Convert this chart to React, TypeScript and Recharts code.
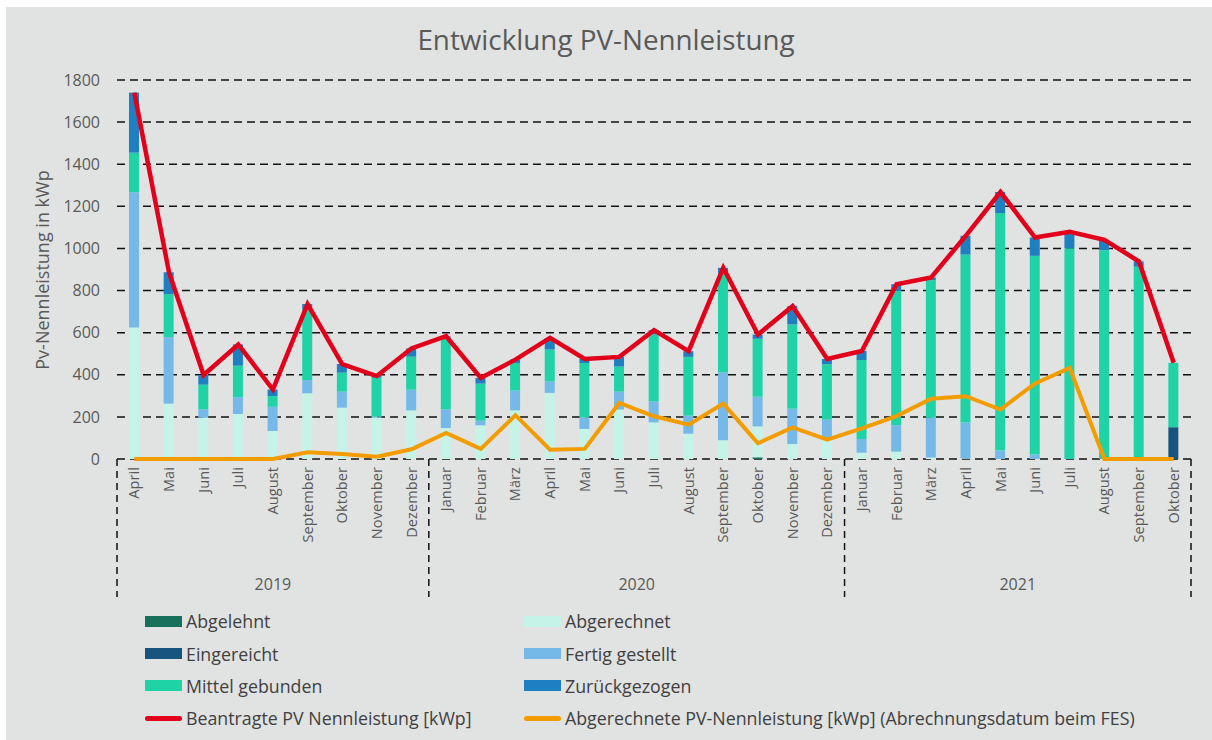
import { Bar, CartesianGrid, ComposedChart, Line, XAxis, YAxis } from "recharts"

const months = [
  "April", "Mai", "Juni", "Juli", "August", "September", "Oktober", "November", "Dezember",
  "Januar", "Februar", "März", "April", "Mai", "Juni", "Juli", "August", "September", "Oktober", "November", "Dezember",
  "Januar", "Februar", "März", "April", "Mai", "Juni", "Juli", "August", "September", "Oktober",
]
const years = [
  "2019", "2019", "2019", "2019", "2019", "2019", "2019", "2019", "2019",
  "2020", "2020", "2020", "2020", "2020", "2020", "2020", "2020", "2020", "2020", "2020", "2020",
  "2021", "2021", "2021", "2021", "2021", "2021", "2021", "2021", "2021", "2021",
]

// stacked status values in kWp
const abgelehnt = [0, 0, 0, 0, 0, 0, 0, 0, 0, 0, 0, 0, 0, 0, 0, 0, 0, 0, 8, 0, 0, 0, 0, 0, 0, 0, 0, 0, 0, 0, 0]
const abgerechnet = [625, 263, 196, 214, 133, 312, 244, 196, 231, 147, 160, 231, 314, 143, 235, 174, 120, 89, 147, 71, 92, 30, 35, 7, 3, 0, 0, 0, 0, 0, 0]
const eingereicht = [0, 0, 0, 0, 0, 0, 0, 0, 0, 0, 0, 0, 0, 0, 0, 0, 0, 0, 0, 0, 0, 0, 0, 0, 0, 0, 0, 0, 0, 0, 151]
const fertigGestellt = [642, 316, 40, 80, 115, 63, 76, 5, 98, 89, 22, 94, 54, 55, 85, 99, 86, 323, 141, 168, 95, 65, 126, 189, 170, 40, 21, 0, 0, 0, 0]
const mittelGebunden = [188, 204, 117, 149, 51, 335, 90, 185, 157, 344, 176, 131, 152, 258, 119, 318, 279, 472, 275, 400, 263, 375, 637, 653, 798, 1128, 944, 1001, 992, 913, 306]
const zurueckgezogen = [285, 104, 46, 101, 31, 26, 41, 8, 39, 3, 27, 16, 55, 19, 46, 21, 27, 24, 20, 87, 25, 43, 32, 13, 89, 100, 87, 78, 49, 25, 0]

// lines
const beantragt = [1740, 887, 399, 544, 330, 736, 451, 394, 525, 583, 385, 472, 575, 475, 485, 612, 512, 908, 591, 726, 475, 513, 830, 862, 1060, 1268, 1052, 1079, 1041, 938, 457]
const abgerechnetLeistung = [0, 0, 0, 0, 0, 32, 24, 11, 46, 124, 48, 208, 44, 48, 266, 203, 163, 263, 75, 150, 92, 145, 204, 286, 298, 235, 359, 432, 0, 0, 0]

const yTicks = [0, 200, 400, 600, 800, 1000, 1200, 1400, 1600, 1800]

const barSeries = [
  { key: "abgelehnt", name: "Abgelehnt", color: "#17705a" },
  { key: "abgerechnet", name: "Abgerechnet", color: "#c6f3e8" },
  { key: "eingereicht", name: "Eingereicht", color: "#17557e" },
  { key: "fertigGestellt", name: "Fertig gestellt", color: "#74b9e7" },
  { key: "mittelGebunden", name: "Mittel gebunden", color: "#20d3a7" },
  { key: "zurueckgezogen", name: "Zurückgezogen", color: "#1f80c1" },
]
const lineSeries = [
  { key: "beantragt", name: "Beantragte PV Nennleistung [kWp]", color: "#e3001b", width: 4.5 },
  { key: "abgerechnetLeistung", name: "Abgerechnete PV-Nennleistung [kWp] (Abrechnungsdatum beim FES)", color: "#f39c00", width: 4 },
]

const data = months.map((m, i) => ({
  month: m,
  year: years[i],
  abgelehnt: abgelehnt[i],
  abgerechnet: abgerechnet[i],
  eingereicht: eingereicht[i],
  fertigGestellt: fertigGestellt[i],
  mittelGebunden: mittelGebunden[i],
  zurueckgezogen: zurueckgezogen[i],
  beantragt: beantragt[i],
  abgerechnetLeistung: abgerechnetLeistung[i],
}))

const W = 1212
const CHART_H = 605
const Y_AXIS_W = 117
const RIGHT = 21
const step = (W - Y_AXIS_W - RIGHT) / months.length
const textColor = "#595959"
const font = "'Open Sans', 'Noto Sans', sans-serif"

const MonthTick = (props: any) => {
  const { x, y, payload } = props
  const i = payload.index
  const yr = years[i]
  const first = i === 0 || years[i - 1] !== yr
  const last = i === months.length - 1
  let end = i
  while (end + 1 < years.length && years[end + 1] === yr) end++
  const sep = { stroke: "#111", strokeWidth: 1.5, strokeDasharray: "7 5" }
  return (
    <g>
      <g transform={`translate(${x},${y + 8}) rotate(-90)`}>
        <text textAnchor="end" dy="0.35em" fontSize={14.5} letterSpacing={0.1} fill={textColor} fontFamily={font}>
          {payload.value}
        </text>
      </g>
      {first && <line x1={x - step / 2} x2={x - step / 2} y1={y} y2={y + 138} {...sep} />}
      {last && <line x1={x + step / 2} x2={x + step / 2} y1={y} y2={y + 138} {...sep} />}
      {first && (
        <text x={x + ((end - i) * step) / 2} y={y + 125} textAnchor="middle" dominantBaseline="central" fontSize={16} fill={textColor} fontFamily={font}>
          {yr}
        </text>
      )}
    </g>
  )
}

const legendItems = [
  barSeries[0], barSeries[1], barSeries[2], barSeries[3], barSeries[4], barSeries[5],
  { ...lineSeries[0], line: true }, { ...lineSeries[1], line: true },
] as any[]

export default function App() {
  return (
    <div style={{ position: "fixed", left: 0, top: 0, width: W, height: 740, background: "#fff", fontFamily: font }}>
      <div style={{ position: "absolute", left: 6, top: 7, right: 0, bottom: 0, background: "#e1e3e2" }} />
      <div style={{ position: "absolute", left: 0, top: 20, width: W, textAlign: "center", fontSize: 27.8, color: textColor }}>
        Entwicklung PV-Nennleistung
      </div>
      <div style={{ position: "absolute", left: 0, top: 0 }}>
        <ComposedChart width={W} height={CHART_H} data={data} margin={{ top: 80, right: RIGHT, bottom: 0, left: 0 }}>
          <CartesianGrid vertical={false} stroke="#111" strokeWidth={1.5} strokeDasharray="8 5" />
          <XAxis dataKey="month" interval={0} axisLine={false} tickLine={false} tickSize={0} tickMargin={0} height={146} tick={(p: any) => <MonthTick {...p} />} />
          <YAxis
            width={Y_AXIS_W}
            domain={[0, 1800]}
            ticks={yTicks}
            axisLine={false}
            tickLine={false}
            tickSize={0}
            tickMargin={17}
            tick={{ fill: textColor, fontSize: 16, fontFamily: font }}
            label={() => (
              <text x={42} y={270} transform="rotate(-90 42 270)" textAnchor="middle" dominantBaseline="central" fontSize={18} fill={textColor} fontFamily={font}>
                Pv-Nennleistung in kWp
              </text>
            )}
          />
          {barSeries.map((s) => (
            <Bar key={s.key} dataKey={s.key} name={s.name} stackId="status" fill={s.color} barSize={10} isAnimationActive={false} />
          ))}
          {lineSeries.map((s) => (
            <Line key={s.key} type="linear" dataKey={s.key} name={s.name} stroke={s.color} strokeWidth={s.width} dot={false} activeDot={false} isAnimationActive={false} />
          ))}
        </ComposedChart>
      </div>
      <div style={{ position: "absolute", left: 145, top: 605, display: "grid", gridTemplateColumns: "379px auto", rowGap: 0 }}>
        {legendItems.map((it) => (
          <div key={it.key} style={{ display: "flex", alignItems: "center", height: 32.4, fontSize: 17.8, color: "#404040" }}>
            {it.line ? (
              <span style={{ display: "inline-block", width: 37, height: 5, borderRadius: 2.5, background: it.color, marginRight: 4 }} />
            ) : (
              <span style={{ display: "inline-block", width: 37, height: 11, background: it.color, marginRight: 4 }} />
            )}
            <span>{it.name}</span>
          </div>
        ))}
      </div>
    </div>
  )
}
